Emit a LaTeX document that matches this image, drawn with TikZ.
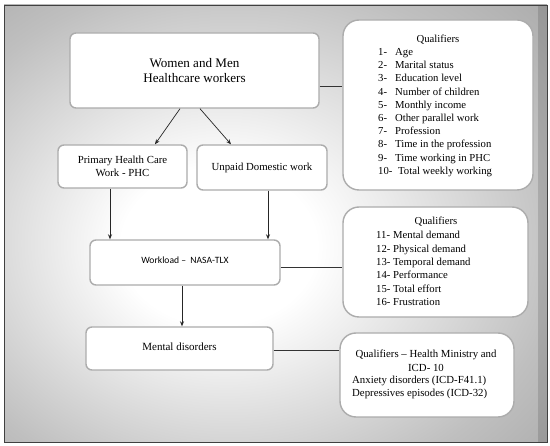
\documentclass[tikz,border=0pt]{standalone}
\usepackage{fontspec}
\setmainfont{Liberation Serif}
\newfontfamily\calibrifont{Carlito}
\usetikzlibrary{positioning,arrows.meta,shapes}
\pgfdeclareradialshading{bgglow}{\pgfpoint{-6bp}{-3bp}}{color(0bp)=(white); color(9bp)=(white); color(30bp)=(gray!50); color(50bp)=(gray!85); color(71bp)=(black!55)}
\tikzset{
	mainbox/.style={draw=gray!65, line width=1.4pt, fill=white, rounded corners=6pt, inner sep=0pt, align=center, font=\fontsize{10.8}{13}\selectfont},
	qualbox/.style={mainbox, rounded corners=16pt},
	qualtext/.style={inner sep=0pt, align=left, font=\fontsize{10.7}{13.3}\selectfont},
	flow/.style={-{Stealth[length=5pt,width=4pt]}, line width=0.7pt, black!85},
	link/.style={line width=0.7pt, black!80},
}
\newcommand{\qnum}[1]{\makebox[17pt][l]{#1}}

\begin{document}
\begin{tikzpicture}[x=1pt,y=-1pt]
	\useasboundingbox (0,0) rectangle (550,446);
	% background frame
	\shade[shading=bgglow] (4,5) rectangle (547,442);
	\fill[black, opacity=0.13] (538,5) rectangle (547,442);
	\draw[black!75, line width=0.8pt] (4,5) rectangle (547,442);

	% flow boxes
	\node[mainbox, minimum width=249, minimum height=75, font=\fontsize{13.1}{15}\selectfont] (workers) at (194.5,70.5) {Women and Men\\Healthcare workers};
	\node[mainbox, minimum width=129, minimum height=43] (phc) at (122.5,166.5) {Primary Health Care\\Work - PHC};
	\node[mainbox, minimum width=130, minimum height=45] (domestic) at (262,167.5) {Unpaid Domestic work};
	\node[mainbox, minimum width=190, minimum height=45, font=\calibrifont\fontsize{9.6}{12}\selectfont] (workload) at (185,262.5) {\raisebox{4.5pt}{Workload –\ \ NASA-TLX}};
	\node[mainbox, minimum width=187, minimum height=43, font=\fontsize{11}{13}\selectfont] (disorders) at (179.5,348.5) {\raisebox{3.5pt}{Mental disorders}};

	% qualifier boxes
	\node[qualbox, minimum width=190, minimum height=170] (qualsocial) at (438,105) {};
	\node[qualtext] (qualsocialtitle) at (438,40) {Qualifiers};
	\node[qualtext, anchor=west, font=\fontsize{10.7}{13.2}\selectfont] (qualsociallist) at (378,112.5) {%
		\qnum{1-}Age\\
		\qnum{2-}Marital status\\
		\qnum{3-}Education level\\
		\qnum{4-}Number of children\\
		\qnum{5-}Monthly income\\
		\qnum{6-}Other parallel work\\
		\qnum{7-}Profession\\
		\qnum{8-}Time in the profession\\
		\qnum{9-}Time working in PHC\\
		\qnum{10-}\hspace{3pt}Total weekly working};

	\node[qualbox, minimum width=185, minimum height=110] (qualtlx) at (435.5,262) {};
	\node[qualtext] (qualtlxtitle) at (436,222) {Qualifiers};
	\node[qualtext, anchor=west, font=\fontsize{10.7}{13.4}\selectfont] (qualtlxlist) at (376,268.5) {%
		\qnum{11-}Mental demand\\
		\qnum{12-}Physical demand\\
		\qnum{13-}Temporal demand\\
		\qnum{14-}Performance\\
		\qnum{15-}Total effort\\
		\qnum{16-}Frustration};

	\node[qualbox, minimum width=174, minimum height=84] (qualicd) at (427,375) {};
	\node[qualtext, align=center, font=\fontsize{10.8}{14}\selectfont] (qualicdtitle) at (426,361) {Qualifiers – Health Ministry and\\ICD- 10};
	\node[qualtext, anchor=west, font=\fontsize{10.8}{13}\selectfont] (qualicdlist) at (352,387.5) {Anxiety disorders (ICD-F41.1)\\Depressives episodes (ICD-32)};

	% arrows
	\draw[flow] ([xshift=-14.5pt]workers.south) -- ([xshift=32.5pt]phc.north);
	\draw[flow] ([xshift=5.5pt]workers.south) -- ([xshift=-31pt]domestic.north);
	\draw[flow] ([xshift=-12.5pt]phc.south) -- ([xshift=-12.5pt]phc.south |- workload.north);
	\draw[flow] ([xshift=6pt]domestic.south) -- ([xshift=6pt]domestic.south |- workload.north);
	\draw[flow] ([xshift=-3pt]workload.south) -- ([xshift=-3pt]workload.south |- disorders.north);

	% links to qualifiers
	\draw[link] ([yshift=-15.5pt]workers.east) -- ([yshift=-15.5pt]workers.east -| qualsocial.west);
	\draw[link] ([yshift=-4.5pt]workload.east) -- ([yshift=-4.5pt]workload.east -| qualtlx.west);
	\draw[link] ([yshift=-1.5pt]disorders.east) -- ([yshift=-1.5pt]disorders.east -| qualicd.west);
\end{tikzpicture}
\end{document}
